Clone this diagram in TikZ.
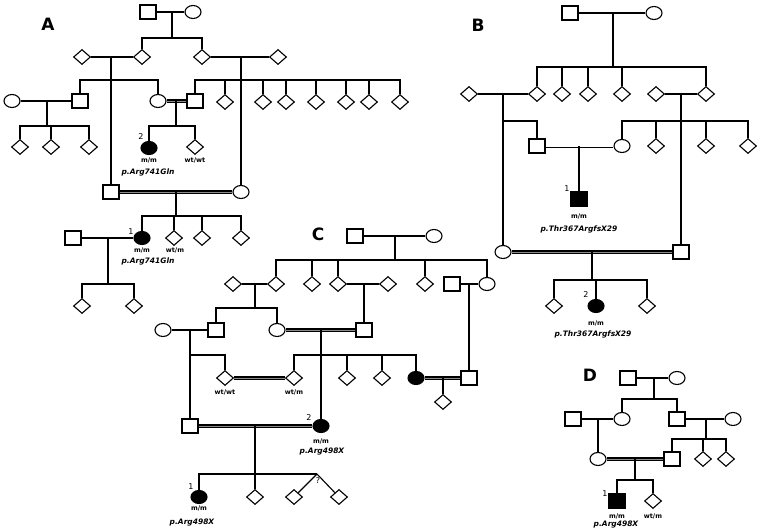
\documentclass[tikz,border=0pt]{standalone}
\usepackage{fontspec}
\setmainfont{DejaVu Sans}
\usepackage{tikz}
\usetikzlibrary{shapes.geometric}

\begin{document}
\begin{tikzpicture}[x=1pt, y=-1pt, line width=1.1pt,
    male/.style = {draw, rectangle, minimum width=16pt, minimum height=14pt, inner sep=0pt},
    female/.style = {draw, ellipse, minimum width=16pt, minimum height=13pt, inner sep=0pt},
    unk/.style = {draw, diamond, minimum width=17pt, minimum height=15pt, inner sep=0pt},
    aff/.style = {fill=black},
    cons/.style = {line width=1.3pt, double=black!45, double distance=0.9pt},
    gt/.style = {font=\bfseries\fontsize{6.5}{7}\selectfont, inner sep=0pt},
    mut/.style = {font=\bfseries\itshape\fontsize{7.5}{8}\selectfont, inner sep=0pt},
    num/.style = {font=\fontsize{8}{9}\selectfont, inner sep=0pt},
    panel/.style = {font=\bfseries\fontsize{17}{17}\selectfont, inner sep=0pt}]
    \useasboundingbox (0,0) rectangle (762,532);

    \node[panel] (Alab) at (48,24) {A};
    \node[male] (A1) at (148,12) {};
    \node[female] (A2) at (193,12) {};
    \node[unk] (A3) at (82,57) {};
    \node[unk] (A4) at (142,57) {};
    \node[unk] (A5) at (202,57) {};
    \node[unk] (A6) at (278,57) {};
    \node[female] (A7) at (12,101) {};
    \node[male] (A8) at (80,101) {};
    \node[female] (A9) at (158,101) {};
    \node[male] (A10) at (195,101) {};
    \node[unk] (A11) at (225,102) {};
    \node[unk] (A12) at (263,102) {};
    \node[unk] (A13) at (286,102) {};
    \node[unk] (A14) at (316,102) {};
    \node[unk] (A15) at (346,102) {};
    \node[unk] (A16) at (369,102) {};
    \node[unk] (A17) at (400,102) {};
    \node[unk] (A18) at (20,147) {};
    \node[unk] (A19) at (51,147) {};
    \node[unk] (A20) at (89,147) {};
    \node[female, aff] (A21) at (149,148) {};
    \node[unk] (A22) at (195,147) {};
    \node[male] (A23) at (111,192) {};
    \node[female] (A24) at (241,192) {};
    \node[male] (A25) at (73,238) {};
    \node[female, aff] (A26) at (142,238) {};
    \node[unk] (A27) at (174,238) {};
    \node[unk] (A28) at (202,238) {};
    \node[unk] (A29) at (241,238) {};
    \node[unk] (A30) at (82,306) {};
    \node[unk] (A31) at (134,306) {};
    \coordinate (A1m) at (172,12);
    \coordinate (A1s) at (172,38);
    \coordinate (A3m) at (111,57);
    \coordinate (A3s) at (111,80);
    \coordinate (A5m) at (241,57);
    \coordinate (A5s) at (241,80);
    \coordinate (A7m) at (47,101);
    \coordinate (A7s) at (47,126);
    \coordinate (A9m) at (176,101);
    \coordinate (A9s) at (176,126);
    \coordinate (A23m) at (176,192);
    \coordinate (A23s) at (176,216);
    \coordinate (A25m) at (108,238);
    \coordinate (A25s) at (108,284);
    \draw (A1) -- (A2);
    \draw (A1m) -- (A1s);
    \draw (A1s) -| (A4);
    \draw (A1s) -| (A5);
    \draw (A3) -- (A4);
    \draw (A5) -- (A6);
    \draw (A3m) -- (A23);
    \draw (A5m) -- (A24);
    \draw (A3s) -| (A8);
    \draw (A3s) -| (A9);
    \draw (A5s) -| (A10);
    \draw (A5s) -| (A11);
    \draw (A5s) -| (A12);
    \draw (A5s) -| (A13);
    \draw (A5s) -| (A14);
    \draw (A5s) -| (A15);
    \draw (A5s) -| (A16);
    \draw (A5s) -| (A17);
    \draw (A7) -- (A8);
    \draw (A7m) -- (A7s);
    \draw (A7s) -| (A18);
    \draw (A7s) -| (A19);
    \draw (A7s) -| (A20);
    \draw[cons] (A9) -- (A10);
    \draw (A9m) -- (A9s);
    \draw (A9s) -| (A21);
    \draw (A9s) -| (A22);
    \draw[cons] (A23) -- (A24);
    \draw (A23m) -- (A23s);
    \draw (A23s) -| (A26);
    \draw (A23s) -| (A27);
    \draw (A23s) -| (A28);
    \draw (A23s) -| (A29);
    \draw (A25) -- (A26);
    \draw (A25m) -- (A25s);
    \draw (A25s) -| (A30);
    \draw (A25s) -| (A31);
    \node[num] (A21n) at (141,137) {2};
    \node[gt] (A21g) at (149,160) {m/m};
    \node[gt] (A22g) at (195,160) {wt/wt};
    \node[mut] (A21p) at (148,172) {p.Arg741Gln};
    \node[num] (A26n) at (131,232) {1};
    \node[gt] (A26g) at (142,250) {m/m};
    \node[gt] (A27g) at (175,250) {wt/m};
    \node[mut] (A26p) at (148,261) {p.Arg741Gln};

    \node[panel] (Blab) at (478,25) {B};
    \node[male] (B1) at (570,13) {};
    \node[female] (B2) at (654,13) {};
    \node[unk] (B3) at (469,94) {};
    \node[unk] (B4) at (537,94) {};
    \node[unk] (B5) at (562,94) {};
    \node[unk] (B6) at (588,94) {};
    \node[unk] (B7) at (622,94) {};
    \node[unk] (B8) at (656,94) {};
    \node[unk] (B9) at (706,94) {};
    \node[male] (B10) at (537,146) {};
    \node[female] (B11) at (622,146) {};
    \node[unk] (B12) at (656,146) {};
    \node[unk] (B13) at (706,146) {};
    \node[unk] (B14) at (748,146) {};
    \node[male, aff] (B15) at (579,199) {};
    \node[female] (B16) at (503,252) {};
    \node[male] (B17) at (681,252) {};
    \node[unk] (B18) at (554,306) {};
    \node[female, aff] (B19) at (596,306) {};
    \node[unk] (B20) at (647,306) {};
    \coordinate (B1m) at (613,13);
    \coordinate (B1s) at (613,67);
    \coordinate (B3m) at (503,94);
    \coordinate (B3s) at (503,121);
    \coordinate (B8m) at (681,94);
    \coordinate (B8s) at (681,121);
    \coordinate (B10m) at (579,146);
    \coordinate (B16m) at (592,252);
    \coordinate (B16s) at (592,280);
    \draw (B1) -- (B2);
    \draw (B1m) -- (B1s);
    \draw (B1s) -| (B4);
    \draw (B1s) -| (B5);
    \draw (B1s) -| (B6);
    \draw (B1s) -| (B7);
    \draw (B1s) -| (B9);
    \draw (B3) -- (B4);
    \draw (B8) -- (B9);
    \draw (B3m) -- (B16);
    \draw (B3s) -| (B10);
    \draw (B8m) -- (B17);
    \draw (B8s) -| (B11);
    \draw (B8s) -| (B12);
    \draw (B8s) -| (B13);
    \draw (B8s) -| (B14);
    \draw[double, line width=0.9pt, double distance=1.2pt] (B10) -- (B11);
    \draw (B10m) -- (B15);
    \draw[cons] (B16) -- (B17);
    \draw (B16m) -- (B16s);
    \draw (B16s) -| (B18);
    \draw (B16s) -| (B19);
    \draw (B16s) -| (B20);
    \node[num] (B15n) at (567,189) {1};
    \node[gt] (B15g) at (579,216) {m/m};
    \node[mut] (B15p) at (579,229) {p.Thr367ArgfsX29};
    \node[num] (B19n) at (586,295) {2};
    \node[gt] (B19g) at (596,323) {m/m};
    \node[mut] (B19p) at (593,334) {p.Thr367ArgfsX29};

    \node[panel] (Clab) at (318,234) {C};
    \node[male] (C1) at (355,236) {};
    \node[female] (C2) at (434,236) {};
    \node[unk] (C3) at (233,284) {};
    \node[unk] (C4) at (276,284) {};
    \node[unk] (C5) at (312,284) {};
    \node[unk] (C6) at (338,284) {};
    \node[unk] (C7) at (388,284) {};
    \node[unk] (C8) at (425,284) {};
    \node[male] (C9) at (452,284) {};
    \node[female] (C10) at (487,284) {};
    \node[female] (C11) at (163,330) {};
    \node[male] (C12) at (216,330) {};
    \node[female] (C13) at (277,330) {};
    \node[male] (C14) at (364,330) {};
    \node[unk] (C15) at (225,378) {};
    \node[unk] (C16) at (294,378) {};
    \node[unk] (C17) at (347,378) {};
    \node[unk] (C18) at (382,378) {};
    \node[female, aff] (C19) at (416,378) {};
    \node[male] (C20) at (469,378) {};
    \node[unk] (C21) at (443,402) {};
    \node[male] (C22) at (190,426) {};
    \node[female, aff] (C23) at (321,426) {};
    \node[female, aff] (C24) at (199,497) {};
    \node[unk] (C25) at (255,497) {};
    \node[unk] (C26) at (294,497) {};
    \node[unk] (C27) at (339,497) {};
    \coordinate (C1m) at (395,236);
    \coordinate (C1s) at (395,260);
    \coordinate (C3m) at (255,284);
    \coordinate (C3s) at (255,308);
    \coordinate (C6m) at (364,284);
    \coordinate (C9m) at (469,284);
    \coordinate (C11m) at (190,330);
    \coordinate (C11s) at (190,355);
    \coordinate (C13m) at (321,330);
    \coordinate (C13s) at (321,355);
    \coordinate (C19m) at (443,378);
    \coordinate (C22m) at (255,426);
    \coordinate (C22s) at (255,474);
    \coordinate (Ctw) at (317,474);
    \draw (C1) -- (C2);
    \draw (C1m) -- (C1s);
    \draw (C1s) -| (C4);
    \draw (C1s) -| (C5);
    \draw (C1s) -| (C6);
    \draw (C1s) -| (C8);
    \draw (C1s) -| (C10);
    \draw (C3) -- (C4);
    \draw (C3m) -- (C3s);
    \draw (C3s) -| (C12);
    \draw (C3s) -| (C13);
    \draw (C6) -- (C7);
    \draw (C6m) -- (C14);
    \draw (C9) -- (C10);
    \draw (C9m) -- (C20);
    \draw (C11) -- (C12);
    \draw (C11m) -- (C22);
    \draw (C11s) -| (C15);
    \draw[cons] (C13) -- (C14);
    \draw (C13m) -- (C23);
    \draw (C13s) -| (C16);
    \draw (C13s) -| (C17);
    \draw (C13s) -| (C18);
    \draw (C13s) -| (C19);
    \draw[cons] (C15) -- (C16);
    \draw[cons] (C19) -- (C20);
    \draw (C19m) -- (C21);
    \draw[cons] (C22) -- (C23);
    \draw (C22m) -- (C22s);
    \draw (C22s) -| (C24);
    \draw (C22s) -| (C25);
    \draw (C22s) -- (Ctw);
    \draw (Ctw) -- (C26);
    \draw (Ctw) -- (C27);
    \node[gt] (C15g) at (225,392) {wt/wt};
    \node[gt] (C16g) at (294,392) {wt/m};
    \node[num] (C23n) at (309,418) {2};
    \node[gt] (C23g) at (321,441) {m/m};
    \node[mut] (C23p) at (322,452) {p.Arg498X};
    \node[num] (C24n) at (191,487) {1};
    \node[gt] (C24g) at (199,508) {m/m};
    \node[mut] (C24p) at (192,523) {p.Arg498X};
    \node[num] (Ctwq) at (318,481) {?};

    \node[panel] (Dlab) at (590,375) {D};
    \node[male] (D1) at (628,378) {};
    \node[female] (D2) at (677,378) {};
    \node[male] (D3) at (573,419) {};
    \node[female] (D4) at (622,419) {};
    \node[male] (D5) at (677,419) {};
    \node[female] (D6) at (733,419) {};
    \node[female] (D7) at (598,459) {};
    \node[male] (D8) at (672,459) {};
    \node[unk] (D9) at (703,459) {};
    \node[unk] (D10) at (726,459) {};
    \node[male, aff] (D11) at (617,501) {};
    \node[unk] (D12) at (653,501) {};
    \coordinate (D1m) at (654,378);
    \coordinate (D1s) at (654,399);
    \coordinate (D3m) at (598,419);
    \coordinate (D5m) at (706,419);
    \coordinate (D5s) at (706,439);
    \coordinate (D7m) at (635,459);
    \coordinate (D7s) at (635,480);
    \draw (D1) -- (D2);
    \draw (D1m) -- (D1s);
    \draw (D1s) -| (D4);
    \draw (D1s) -| (D5);
    \draw (D3) -- (D4);
    \draw (D3m) -- (D7);
    \draw (D5) -- (D6);
    \draw (D5m) -- (D5s);
    \draw (D5s) -| (D8);
    \draw (D5s) -| (D9);
    \draw (D5s) -| (D10);
    \draw[cons] (D7) -- (D8);
    \draw (D7m) -- (D7s);
    \draw (D7s) -| (D11);
    \draw (D7s) -| (D12);
    \node[num] (D11n) at (605,494) {1};
    \node[gt] (D11g) at (617,516) {m/m};
    \node[gt] (D12g) at (653,516) {wt/m};
    \node[mut] (D11p) at (616,525) {p.Arg498X};
\end{tikzpicture}
\end{document}
